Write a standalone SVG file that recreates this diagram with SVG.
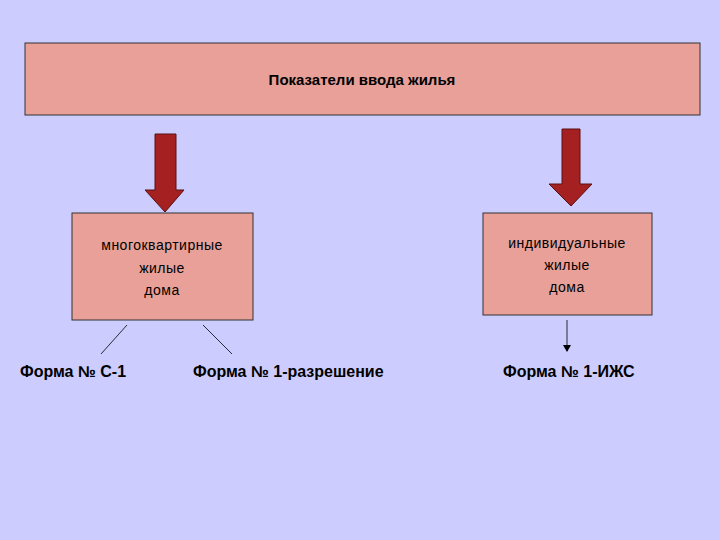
<svg xmlns="http://www.w3.org/2000/svg" width="720" height="540" viewBox="0 0 720 540">
<style>
.box{fill:#e8a098;stroke:#333;stroke-width:1}
.big{fill:#a52020;stroke:#5a1010;stroke-width:1}
.t{font-family:"Liberation Sans",Arial,sans-serif;fill:#000}
.title{font-size:15px;font-weight:bold}
.bt{font-size:14px;letter-spacing:0.5px}
.lab{font-size:16px;font-weight:bold}
.ln{stroke:#000;stroke-width:0.8;fill:none}
</style>
<defs><marker id="ah" markerWidth="8" markerHeight="8" refX="6" refY="4" orient="auto" markerUnits="userSpaceOnUse"><path d="M0,0 L7,4 L0,8 Z" fill="#000"/></marker></defs>
<rect width="720" height="540" fill="#ccccff"/>
<g id="top"><rect class="box" x="25" y="43" width="675" height="72"/><text class="t title" x="362" y="85" text-anchor="middle">Показатели ввода жилья</text></g>
<g id="left"><rect class="box" x="72" y="213" width="181" height="107"/>
<text class="t bt" x="162" y="250" text-anchor="middle">многоквартирные</text>
<text class="t bt" x="162" y="273" text-anchor="middle">жилые</text>
<text class="t bt" x="162" y="295" text-anchor="middle">дома</text></g>
<g id="right"><rect class="box" x="483" y="213" width="169" height="102"/>
<text class="t bt" x="567" y="248" text-anchor="middle">индивидуальные</text>
<text class="t bt" x="567" y="270" text-anchor="middle">жилые</text>
<text class="t bt" x="567" y="292" text-anchor="middle">дома</text></g>
<g id="l1"><text class="t lab" x="20" y="377">Форма № С-1</text></g>
<g id="l2"><text class="t lab" x="193" y="377">Форма № 1-разрешение</text></g>
<g id="l3"><text class="t lab" x="503" y="377">Форма № 1-ИЖС</text></g>
<g id="connectors">
<path class="big" d="M155,134 H176 V190 H184 L165,212 L145,190 H155 Z"/>
<path class="big" d="M562,129 H580 V184 H592 L571,206 L549,184 H562 Z"/>
<line class="ln" x1="127" y1="325" x2="101" y2="354"/>
<line class="ln" x1="203" y1="325" x2="232" y2="354"/>
<line class="ln" x1="567" y1="320" x2="567" y2="351" marker-end="url(#ah)"/>
</g>
</svg>
